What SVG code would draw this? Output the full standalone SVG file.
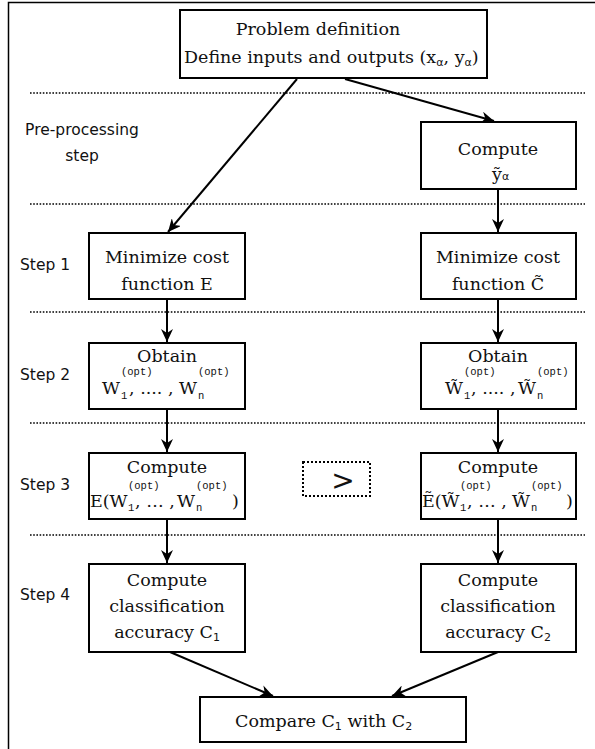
<svg xmlns="http://www.w3.org/2000/svg" width="595" height="749" viewBox="0 0 595 749">
<defs>
<style>
.box{fill:#fff;stroke:#000;stroke-width:2}
.dot{stroke:#000;stroke-width:1.6;stroke-dasharray:1.6 1.6;fill:none}
.ser{font-family:"DejaVu Serif","Liberation Serif",serif;font-size:17.5px;fill:#111}
.san{font-family:"DejaVu Sans","Liberation Sans",sans-serif;font-size:15.5px;fill:#111}
.sub{font-family:"DejaVu Sans","Liberation Sans",sans-serif;font-size:11px;fill:#111}
.mono{font-family:"Liberation Mono","DejaVu Sans Mono",monospace;font-size:10.5px;fill:#111}
.mid{text-anchor:middle}
.con{stroke:#000;stroke-width:2;fill:none;marker-end:url(#ah)}
</style>
<marker id="ah" markerUnits="userSpaceOnUse" markerWidth="14" markerHeight="12" refX="13" refY="6" orient="auto">
<path d="M0,0 L13,6 L0,12 L4,6 Z" fill="#000"/>
</marker>
</defs>
<rect width="595" height="749" fill="#fff"/>
<path d="M8.5,749 V2.5 H595" fill="none" stroke="#000" stroke-width="1.5"/>

<g id="separators">
<line class="dot" x1="30" y1="93" x2="585" y2="93"/>
<line class="dot" x1="30" y1="204" x2="585" y2="204"/>
<line class="dot" x1="30" y1="312" x2="585" y2="312"/>
<line class="dot" x1="30" y1="423" x2="585" y2="423"/>
<line class="dot" x1="30" y1="535" x2="585" y2="535"/>
</g>

<g id="labels">
<text class="san mid" x="82" y="135">Pre-processing</text>
<text class="san mid" x="82" y="161">step</text>
<text class="san" x="20" y="270">Step 1</text>
<text class="san" x="20" y="380">Step 2</text>
<text class="san" x="20" y="490">Step 3</text>
<text class="san" x="20" y="600">Step 4</text>
</g>

<g id="connectors">
<line class="con" x1="297" y1="79" x2="168" y2="232"/>
<line class="con" x1="345" y1="79" x2="494" y2="121"/>
<line class="con" x1="498" y1="189" x2="498" y2="232"/>
<line class="con" x1="167" y1="299" x2="167" y2="342"/>
<line class="con" x1="498" y1="299" x2="498" y2="342"/>
<line class="con" x1="167" y1="409" x2="167" y2="452"/>
<line class="con" x1="498" y1="409" x2="498" y2="452"/>
<line class="con" x1="167" y1="519" x2="167" y2="563"/>
<line class="con" x1="498" y1="519" x2="498" y2="563"/>
<line class="con" x1="170" y1="652" x2="273" y2="696"/>
<line class="con" x1="498" y1="652" x2="392" y2="696"/>
</g>

<g id="problem">
<rect class="box" x="180" y="10" width="307" height="68"/>
<text class="ser mid" x="318" y="35">Problem definition</text>
<text class="ser" x="184" y="63">Define inputs and outputs (x<tspan class="sub" dy="3">α</tspan><tspan dy="-3">, y</tspan><tspan class="sub" dy="3">α</tspan><tspan dy="-3">)</tspan></text>
</g>

<g id="compute-y">
<rect class="box" x="421" y="122" width="155" height="67"/>
<text class="ser mid" x="498" y="155">Compute</text>
<text class="ser" x="492" y="180">ỹ<tspan class="sub">α</tspan></text>
</g>

<g id="min-e">
<rect class="box" x="89" y="233" width="156" height="66"/>
<text class="ser mid" x="167" y="263">Minimize cost</text>
<text class="ser mid" x="167" y="290">function  E</text>
</g>

<g id="min-c">
<rect class="box" x="421" y="233" width="155" height="66"/>
<text class="ser mid" x="498" y="263">Minimize cost</text>
<text class="ser mid" x="498" y="290">function  C̃</text>
</g>

<g id="obtain-w">
<rect class="box" x="89" y="343" width="156" height="66"/>
<text class="ser mid" x="167" y="362">Obtain</text>
<text class="ser" x="102" y="394">W</text>
<text class="mono" x="121" y="399">1</text>
<text class="mono" x="121" y="375">(opt)</text>
<text class="ser" x="129" y="394">, .... ,</text>
<text class="ser" x="179" y="394">W</text>
<text class="mono" x="198" y="399">n</text>
<text class="mono" x="198" y="375">(opt)</text>
</g>

<g id="obtain-wt">
<rect class="box" x="421" y="343" width="155" height="66"/>
<text class="ser mid" x="498" y="362">Obtain</text>
<text class="ser" x="445" y="394">W̃</text>
<text class="mono" x="464" y="399">1</text>
<text class="mono" x="464" y="375">(opt)</text>
<text class="ser" x="471" y="394">, .... ,</text>
<text class="ser" x="518" y="394">W̃</text>
<text class="mono" x="537" y="399">n</text>
<text class="mono" x="537" y="375">(opt)</text>
</g>

<g id="compute-e">
<rect class="box" x="89" y="453" width="156" height="66"/>
<text class="ser mid" x="167" y="473">Compute</text>
<text class="ser" x="90" y="507">E(W</text>
<text class="mono" x="128" y="511">1</text>
<text class="mono" x="128" y="489">(opt)</text>
<text class="ser" x="135" y="507">, … ,</text>
<text class="ser" x="177" y="507">W</text>
<text class="mono" x="196" y="511">n</text>
<text class="mono" x="196" y="489">(opt)</text>
<text class="ser" x="232" y="507">)</text>
</g>

<g id="compare-sign">
<rect x="303" y="462" width="67" height="34" fill="none" stroke="#000" stroke-width="2" stroke-dasharray="2 2"/>
<text x="343" y="490" text-anchor="middle" font-family="DejaVu Sans, sans-serif" font-size="28" fill="#111">&gt;</text>
</g>

<g id="compute-et">
<rect class="box" x="421" y="453" width="155" height="66"/>
<text class="ser mid" x="498" y="473">Compute</text>
<text class="ser" x="422" y="507">Ẽ(W̃</text>
<text class="mono" x="460" y="511">1</text>
<text class="mono" x="460" y="489">(opt)</text>
<text class="ser" x="467" y="507">, … ,</text>
<text class="ser" x="512" y="507">W̃</text>
<text class="mono" x="531" y="511">n</text>
<text class="mono" x="531" y="489">(opt)</text>
<text class="ser" x="566" y="507">)</text>
</g>

<g id="acc-1">
<rect class="box" x="89" y="564" width="156" height="88"/>
<text class="ser mid" x="167" y="586">Compute</text>
<text class="ser mid" x="167" y="612">classification</text>
<text class="ser mid" x="167" y="638">accuracy  C<tspan class="sub" dy="3">1</tspan></text>
</g>

<g id="acc-2">
<rect class="box" x="421" y="564" width="155" height="88"/>
<text class="ser mid" x="498" y="586">Compute</text>
<text class="ser mid" x="498" y="612">classification</text>
<text class="ser mid" x="498" y="638">accuracy  C<tspan class="sub" dy="3">2</tspan></text>
</g>

<g id="compare">
<rect class="box" x="200" y="697" width="266" height="45"/>
<text class="ser" x="235" y="727">Compare C<tspan class="sub" dy="3">1</tspan><tspan dy="-3"> with C</tspan><tspan class="sub" dy="3">2</tspan></text>
</g>
</svg>
